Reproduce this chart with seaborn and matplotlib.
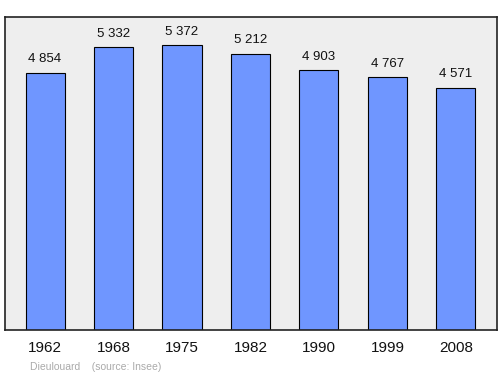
import matplotlib
matplotlib.use("Agg")
import matplotlib.pyplot as plt
import seaborn as sns
import pandas as pd

years = ["1962", "1968", "1975", "1982", "1990", "1999", "2008"]
population = [4854, 5332, 5372, 5212, 4903, 4767, 4571]
labels = ["4 854", "5 332", "5 372", "5 212", "4 903", "4 767", "4 571"]

sns.set_style("white")
plt.rcParams['font.family'] = ['Liberation Sans', 'DejaVu Sans']

df = pd.DataFrame({"year": years, "pop": population})

fig = plt.figure(figsize=(5, 3.74), dpi=100)
ax = fig.add_axes([0.01, 0.118, 0.984, 0.837])
ax.set_facecolor("#eeeeee")
sns.barplot(data=df, x="year", y="pop", ax=ax, color="#6f96ff", saturation=1,
            width=0.57, edgecolor="black", linewidth=0.8)
ax.set_xlim(-0.585, 6.6)
ax.set_ylim(0, 5910)
for i, (v, t) in enumerate(zip(population, labels)):
    ax.text(i, v + 140, t, ha="center", va="bottom", fontsize=9.5, color="#111111")
ax.set_yticks([])
ax.set_xlabel("")
ax.set_ylabel("")
ax.tick_params(axis="x", length=0, labelsize=11, pad=8, labelcolor="#111111")
for s in ax.spines.values():
    s.set_color("#222222")
    s.set_linewidth(1.2)
fig.text(0.06, 0.012, "Dieulouard    (source: Insee)", fontsize=7.5, color="#aaaaaa")
fig.savefig("out.png", dpi=100)
